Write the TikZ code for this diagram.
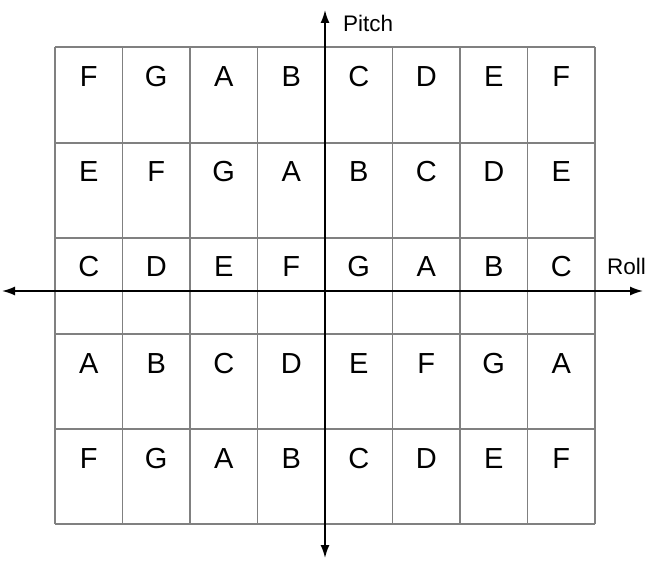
\documentclass[tikz,border=0pt]{standalone}
\usepackage{fontspec}
\setmainfont{Liberation Sans}
\usetikzlibrary{arrows.meta}
\begin{document}
\begin{tikzpicture}[x=1pt,y=-1pt,
  gridline/.style={draw=black!50,line width=1.3pt},
  axisline/.style={draw=black,line width=1.6pt,-{Latex[length=13pt,width=9pt]}},
  cell/.style={inner sep=0pt,font=\fontsize{29}{29}\selectfont},
  axlabel/.style={inner sep=0pt,font=\fontsize{22.5}{22.5}\selectfont}]
\useasboundingbox (0,0) rectangle (660,561);
% grid
\foreach \i in {0,...,8} {
  \draw[gridline] (55+67.5*\i,47) -- (55+67.5*\i,524);
}
\foreach \y in {47,143,238,334,429,524} {
  \draw[gridline] (55,\y) -- (595,\y);
}
% letters
\foreach \row/\yc/\letters in {1/76.5/{F,G,A,B,C,D,E,F},2/172/{E,F,G,A,B,C,D,E},3/267/{C,D,E,F,G,A,B,C},4/363.7/{A,B,C,D,E,F,G,A},5/458.5/{F,G,A,B,C,D,E,F}} {
  \foreach \l [count=\c] in \letters {
    \node[cell] (r\row c\c) at (55+67.5*\c-33.75,\yc) {\l};
  }
}
% axes
\coordinate (xl) at (2,291);
\coordinate (xr) at (643,291);
\coordinate (yt) at (325,10);
\coordinate (yb) at (325,558);
\coordinate (o) at (325,291);
\draw[axisline] (o) -- (xr);
\draw[axisline] (o) -- (xl);
\draw[axisline] (o) -- (yt);
\draw[axisline] (o) -- (yb);
\node[axlabel,anchor=base west] (pitch) at (343,32) {Pitch};
\node[axlabel,anchor=base west] (roll) at (607,274) {Roll};
\end{tikzpicture}
\end{document}
